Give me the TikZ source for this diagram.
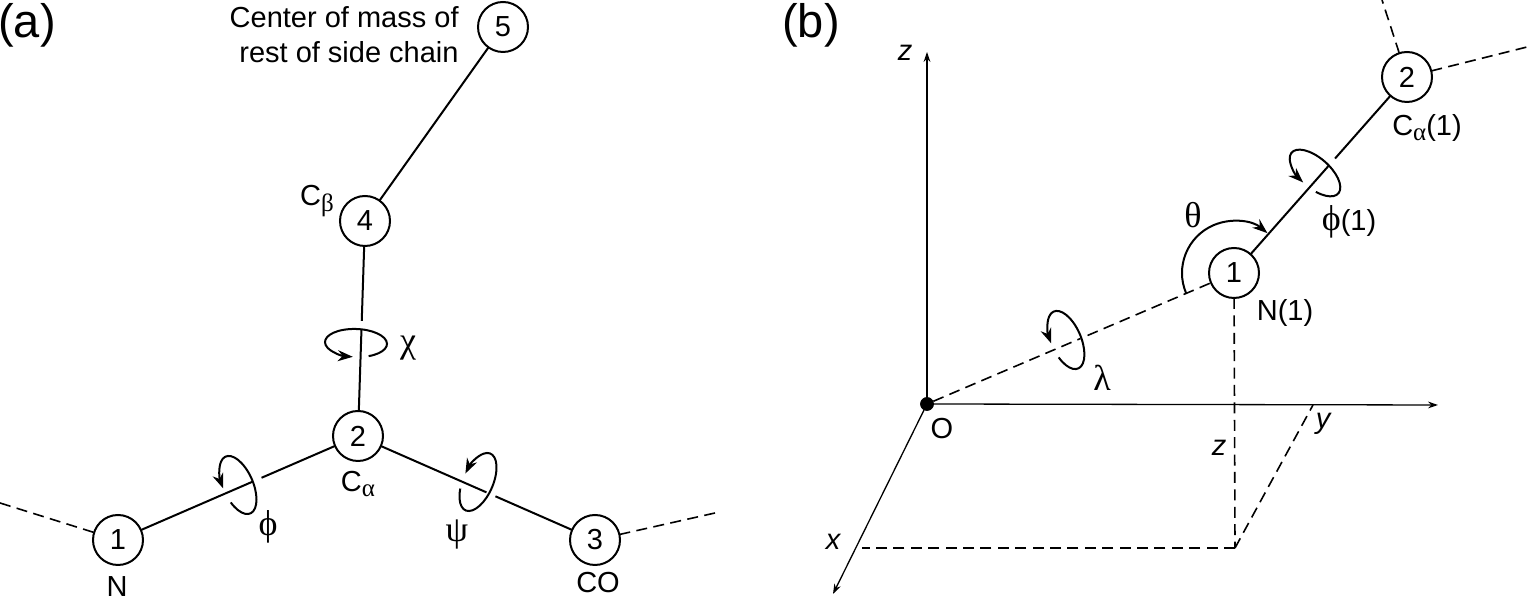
\documentclass[tikz,border=0pt]{standalone}
\usepackage{fontspec}
\setmainfont{Liberation Sans}
\newfontfamily\grk{Liberation Serif}
\newcommand{\gsym}{\fontsize{18}{20}\grk}
\newcommand{\gsub}{\fontsize{12.5}{14}\grk}
\usetikzlibrary{positioning,arrows.meta,calc}
\begin{document}
\begin{tikzpicture}[x=0.5pt, y=0.5pt, font=\fontsize{14.5}{17.5}\selectfont,
  st/.style={draw, circle, line width=1pt, minimum size=25pt, inner sep=0pt, outer sep=0pt},
  bond/.style={line width=1pt},
  dsh/.style={line width=0.8pt, dash pattern=on 5.5pt off 3.2pt},
  axis/.style={-{Stealth[length=5pt,width=3.4pt]}, line width=0.65pt},
  spin/.style={-{Stealth[length=7.5pt,width=5.5pt]}, line width=1pt},
  lbl/.style={inner sep=0pt},
  big/.style={inner sep=0pt, font=\fontsize{23.5}{26}\selectfont}]
\useasboundingbox (0,0) rectangle (1527,603);
\node[big] (panela) at (27,578) {(a)};
\node[st] (n1) at (118,63) {1};
\node[st] (n2) at (358,167) {2};
\node[st] (n3) at (595,63) {3};
\node[st] (n4) at (365,382) {4};
\node[st] (n5) at (503,576) {5};
\node[lbl] (ln) at (117,16) {N};
\node[lbl] (lca) at (358,119) {C\raisebox{-0.35ex}{\gsub α}};
\node[lbl] (lco) at (598,20) {CO};
\node[lbl] (lcb) at (317,402) {C\raisebox{-0.35ex}{\gsub β}};
\node[lbl, align=right, anchor=east] (lcm) at (459,568) {Center of mass of\\rest of side chain};
\node[lbl] (lphi) at (268,76) {\gsym ϕ};
\node[lbl] (lpsi) at (457,68) {\gsym ψ};
\node[lbl] (lchi) at (408,255) {\gsym χ};
\coordinate (dl) at (0,100);
\coordinate (dr) at (715,90);
\draw[dsh] (dl) -- (n1);
\draw[dsh] (n3) -- (dr);
\draw[bond] (n4) -- (n5);
\draw[bond] (n2) -- ($(n2)!0.493!(n4)$);
\draw[bond] ($(n2)!0.535!(n4)$) -- (n4);
\draw[bond] (n1) -- ($(n1)!0.56!(n2)$);
\draw[bond] ($(n1)!0.598!(n2)$) -- (n2);
\draw[bond] (n2) -- ($(n2)!0.542!(n3)$);
\draw[bond] ($(n2)!0.58!(n3)$) -- (n3);
\draw[spin, shift={(356,260)}, rotate=88] (205:14 and 31) arc[start angle=205, end angle=535, x radius=14, y radius=31];
\draw[spin, shift={(238,118)}, rotate=23.5] (205:15 and 31) arc[start angle=205, end angle=535, x radius=15, y radius=31];
\draw[spin, shift={(478,121)}, rotate=-23.6] (205:15 and 31) arc[start angle=205, end angle=535, x radius=15, y radius=31];
\node[big] (panelb) at (811,578) {(b)};
\node[draw, circle, fill=black, minimum size=6.5pt, inner sep=0pt] (o) at (927,199) {};
\node[st] (m1) at (1234,330) {1};
\node[st] (m2) at (1407,526) {2};
\coordinate (zend) at (927,551);
\coordinate (yend) at (1438,198);
\coordinate (xend) at (833,9);
\coordinate (foot) at (1235,55);
\coordinate (xfoot) at (862,55);
\coordinate (yfoot) at (1313,198);
\coordinate (mtop) at (1382,603);
\coordinate (mright) at (1527,556);
\draw[axis] (o) -- (zend);
\draw[axis] (o) -- (yend);
\draw[axis] (o) -- (xend);
\draw[dsh] (o) -- ($(o)!0.5!(m1)$);
\draw[dsh] ($(o)!0.523!(m1)$) -- (m1);
\draw[dsh] (m1) -- (foot);
\draw[dsh] (foot) -- (xfoot);
\draw[dsh] (foot) -- (yfoot);
\draw[dsh] (m2) -- (mtop);
\draw[dsh] (m2) -- (mright);
\draw[bond] (m1) -- ($(m1)!0.549!(m2)$);
\draw[bond] ($(m1)!0.584!(m2)$) -- (m2);
\draw[spin, shift={(1066,263)}, rotate=23.2] (205:15 and 31) arc[start angle=205, end angle=535, x radius=15, y radius=31];
\draw[spin, shift={(1315,430)}, rotate=48.7] (205:15 and 31) arc[start angle=205, end angle=535, x radius=15, y radius=31];
\draw[spin] ($(m1)+(203:52)$) arc[start angle=203, end angle=50, radius=52];
\node[lbl] (lz) at (905,550) {\itshape z};
\node[lbl] (ly) at (1323,179) {\itshape y};
\node[lbl] (lx) at (833,61) {\itshape x};
\node[lbl] (lzz) at (1219,155) {\itshape z};
\node[lbl] (lo) at (942,174) {O};
\node[lbl] (lnb) at (1285,290) {N(1)};
\node[lbl] (lcab) at (1427,475) {C\raisebox{-0.35ex}{\gsub α}(1)};
\node[lbl] (lphib) at (1349,381) {{\gsym ϕ}(1)};
\node[lbl] (lth) at (1193,388) {\gsym θ};
\node[lbl] (llam) at (1102,225) {\gsym λ};
\end{tikzpicture}
\end{document}
